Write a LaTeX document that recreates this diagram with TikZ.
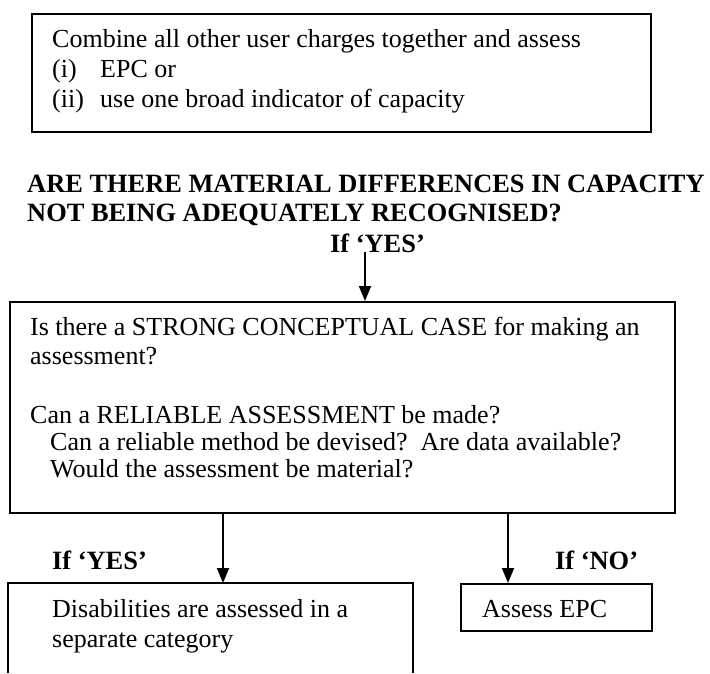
\documentclass[tikz,border=0pt]{standalone}
\usepackage{fontspec}
\setmainfont{Liberation Serif}
\usetikzlibrary{arrows.meta}
\begin{document}
\begin{tikzpicture}[x=1pt,y=-1pt,
  frame/.style={draw,line width=1.5pt},
  txt/.style={anchor=base west,inner sep=0pt,font=\fontsize{26}{30}\selectfont},
  head/.style={anchor=base west,inner sep=0pt,font=\fontsize{26.4}{30}\selectfont\bfseries},
  flow/.style={-{Triangle[length=15pt,width=12pt]},line width=1.8pt}]
\useasboundingbox (0,0) rectangle (710,673);

% top box: combined user charges
\draw[frame] (32,14) rectangle (651,132);
\node[txt] (c1) at (52,47) {Combine all other user charges together and assess};
\node[txt] (c2) at (52,77) {(i)};
\node[txt] (c2b) at (100,77) {EPC or};
\node[txt] (c3) at (52,107) {(ii)};
\node[txt] (c3b) at (100,107) {use one broad indicator of capacity};

% question heading
\node[head] (h1) at (27,192) {ARE THERE MATERIAL DIFFERENCES IN CAPACITY};
\node[head] (h2) at (27,221) {NOT BEING ADEQUATELY RECOGNISED?};
\node[head] (hy) at (330,252) {If ‘YES’};

% decision box
\node[frame,anchor=north west,minimum width=665pt,minimum height=211pt,inner sep=0pt] (q) at (9,301) {};
\node[txt] (q1) at (30,335) {Is there a STRONG CONCEPTUAL CASE for making an};
\node[txt] (q2) at (30,364) {assessment?};
\node[txt] (q3) at (30,423) {Can a RELIABLE ASSESSMENT be made?};
\node[txt] (q4) at (50,450) {Can a reliable method be devised?\ \ Are data available?};
\node[txt] (q5) at (50,477) {Would the assessment be material?};

% outcome labels
\node[head] (ly) at (52,569) {If ‘YES’};
\node[head] (ln) at (555,569) {If ‘NO’};

% outcome: separate category (open at the bottom)
\coordinate (dtl) at (8,583);
\coordinate (dtr) at (413,583);
\draw[frame] (8,673) -- (dtl) -- (dtr) -- (413,673);
\node[txt] (d1) at (52,617) {Disabilities are assessed in a};
\node[txt] (d2) at (52,647) {separate category};

% outcome: assess EPC
\node[frame,anchor=north west,minimum width=191pt,minimum height=47pt,inner sep=0pt] (e) at (460,583) {};
\node[txt] (e1) at (482,617) {Assess EPC};

% connectors
\coordinate (ytop) at (365,252);
\draw[flow] (ytop) -- (ytop |- q.north);
\coordinate (ya) at (223,0);
\coordinate (na) at (508,0);
\draw[flow] (q.south -| ya) -- (dtl -| ya);
\draw[flow] (q.south -| na) -- (e.north -| na);
\end{tikzpicture}
\end{document}
